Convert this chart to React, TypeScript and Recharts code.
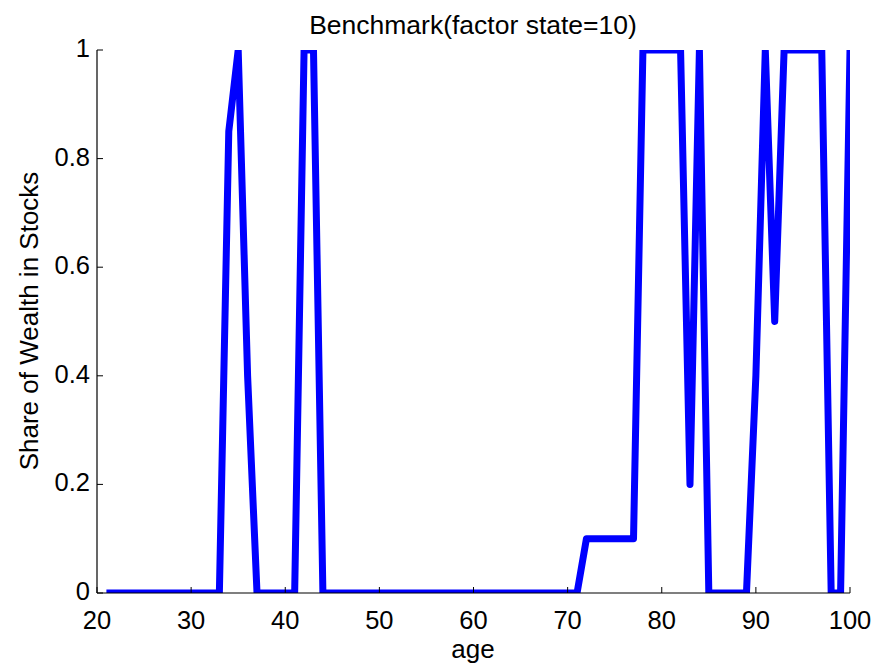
import { LineChart, Line, XAxis, YAxis } from "recharts";

// age on the x axis, share of wealth in stocks on the y axis
const ages = [
  21, 22, 23, 24, 25, 26, 27, 28, 29, 30,
  31, 32, 33, 34, 35, 36, 37, 38, 39, 40,
  41, 42, 43, 44, 45, 46, 47, 48, 49, 50,
  51, 52, 53, 54, 55, 56, 57, 58, 59, 60,
  61, 62, 63, 64, 65, 66, 67, 68, 69, 70,
  71, 72, 73, 74, 75, 76, 77, 78, 79, 80,
  81, 82, 83, 84, 85, 86, 87, 88, 89, 90,
  91, 92, 93, 94, 95, 96, 97, 98, 99, 100,
];
const shares = [
  0, 0, 0, 0, 0, 0, 0, 0, 0, 0,
  0, 0, 0, 0.85, 1, 0.4, 0, 0, 0, 0,
  0, 1, 1, 0, 0, 0, 0, 0, 0, 0,
  0, 0, 0, 0, 0, 0, 0, 0, 0, 0,
  0, 0, 0, 0, 0, 0, 0, 0, 0, 0,
  0, 0.1, 0.1, 0.1, 0.1, 0.1, 0.1, 1, 1, 1,
  1, 1, 0.2, 1, 0, 0, 0, 0, 0, 0.4,
  1, 0.5, 1, 1, 1, 1, 1, 0, 0, 1,
];
const xTicks = [20, 30, 40, 50, 60, 70, 80, 90, 100];
const yTicks = [0, 0.2, 0.4, 0.6, 0.8, 1];

const title = "Benchmark(factor state=10)";
const xLabel = "age";
const yLabel = "Share of Wealth in Stocks";

const data = ages.map((age, i) => ({ age, share: shares[i] }));

const FONT = "Liberation Sans, Arial, Helvetica, sans-serif";
const TICK_FS = 25.5;
const LABEL_FS = 26;
const TICK_LEN = 6;

const BottomTick = (props: any) => {
  const { x, y, payload } = props;
  return (
    <g>
      <line x1={x} y1={y} x2={x} y2={y - TICK_LEN} stroke="#000" />
      <text x={x} y={y + 36} textAnchor="middle" fontSize={TICK_FS} fontFamily={FONT} fill="#000">
        {payload.value}
      </text>
    </g>
  );
};

const TopTick = (props: any) => {
  const { x, y } = props;
  return <line x1={x} y1={y} x2={x} y2={y + TICK_LEN} stroke="#000" />;
};

const LeftTick = (props: any) => {
  const { x, y, payload } = props;
  return (
    <g>
      <line x1={x} y1={y} x2={x + TICK_LEN} y2={y} stroke="#000" />
      <text x={x - 7} y={y + 7} textAnchor="end" fontSize={TICK_FS} fontFamily={FONT} fill="#000">
        {String(payload.value)}
      </text>
    </g>
  );
};

const RightTick = (props: any) => {
  const { x, y } = props;
  return <line x1={x} y1={y} x2={x - TICK_LEN} y2={y} stroke="#000" />;
};

export default function App() {
  return (
    <div style={{ position: "absolute", left: 0, top: 0, width: 877, height: 667, background: "#fff", fontFamily: FONT }}>
      <LineChart width={877} height={667} data={data} margin={{ top: 50, right: 27, bottom: 0, left: 0 }}>
        <XAxis
          dataKey="age"
          type="number"
          domain={[20, 100]}
          ticks={xTicks}
          allowDataOverflow
          height={74}
          tickSize={0}
          tickMargin={0}
          tickLine={false}
          tick={<BottomTick />}
          axisLine={{ stroke: "#000", strokeWidth: 1.2 }}
          interval={0}
        />
        <XAxis
          xAxisId="top"
          orientation="top"
          dataKey="age"
          type="number"
          domain={[20, 100]}
          ticks={xTicks}
          allowDataOverflow
          height={0}
          tickSize={0}
          tickMargin={0}
          tickLine={false}
          tick={<TopTick />}
          axisLine={{ stroke: "#000", strokeWidth: 1.2 }}
          interval={0}
        />
        <YAxis
          type="number"
          domain={[0, 1]}
          ticks={yTicks}
          allowDataOverflow
          width={97}
          tickSize={0}
          tickMargin={0}
          tickLine={false}
          tick={<LeftTick />}
          axisLine={{ stroke: "#000", strokeWidth: 1.2 }}
          interval={0}
        />
        <YAxis
          yAxisId="right"
          orientation="right"
          type="number"
          domain={[0, 1]}
          ticks={yTicks}
          allowDataOverflow
          width={0}
          tickSize={0}
          tickMargin={0}
          tickLine={false}
          tick={<RightTick />}
          axisLine={{ stroke: "#000", strokeWidth: 1.2 }}
          interval={0}
        />
        <Line
          dataKey="share"
          type="linear"
          stroke="#0000ff"
          strokeWidth={7}
          strokeLinejoin="round"
          dot={false}
          activeDot={false}
          isAnimationActive={false}
        />
        <text x={473} y={34} textAnchor="middle" fontSize={26.5} fontFamily={FONT} fill="#000">
          {title}
        </text>
        <text x={473} y={658} textAnchor="middle" fontSize={LABEL_FS} fontFamily={FONT} fill="#000">
          {xLabel}
        </text>
        <text
          x={38}
          y={321}
          textAnchor="middle"
          fontSize={LABEL_FS}
          fontFamily={FONT}
          fill="#000"
          transform="rotate(-90 38 321)"
        >
          {yLabel}
        </text>
      </LineChart>
    </div>
  );
}
